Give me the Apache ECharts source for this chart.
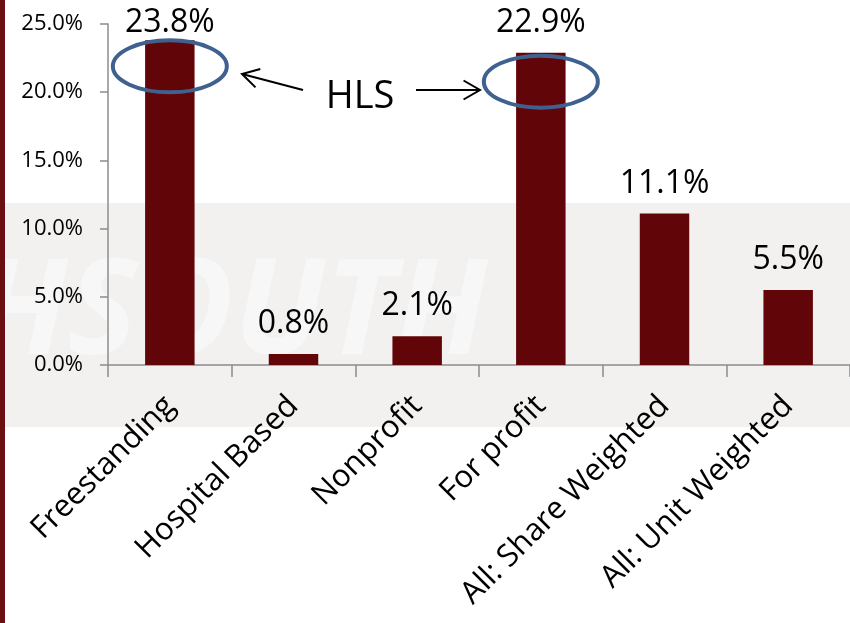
<!DOCTYPE html>
<html>
<head>
<meta charset="utf-8">
<script src="https://cdn.jsdelivr.net/npm/echarts@6/dist/echarts.min.js"></script>
<style>
html,body{margin:0;padding:0;background:#fff;}
#c{width:850px;height:623px;}
</style>
</head>
<body>
<div id="c"></div>
<script>
const categories = ['Freestanding', 'Hospital Based', 'Nonprofit', 'For profit', 'All: Share Weighted', 'All: Unit Weighted'];
const values = [23.8, 0.8, 2.1, 22.9, 11.1, 5.5];
const yTicks = [0, 5, 10, 15, 20, 25];
const hlsIndices = [0, 3];

const FONT = 'Open Sans';
const chart = echarts.init(document.getElementById('c'), null, {renderer: 'canvas'});

const seriesData = values.map((v, i) => i === 0 ? {value: v, label: {distance: 1}} : v);

const option = {
  animation: false,
  backgroundColor: '#ffffff',
  grid: {left: 108, right: 0, top: 24, bottom: 258, containLabel: false},
  xAxis: {
    type: 'category',
    data: categories,
    axisLine: {lineStyle: {color: '#8c8c8c', width: 1.5}},
    axisTick: {show: true, length: 12, lineStyle: {color: '#8c8c8c', width: 1.5}},
    axisLabel: {rotate: 45, fontSize: 31, fontFamily: FONT, color: '#000', margin: 36, interval: 0}
  },
  yAxis: {
    type: 'value',
    min: yTicks[0],
    max: yTicks[yTicks.length - 1],
    interval: yTicks[1] - yTicks[0],
    axisLine: {show: true, lineStyle: {color: '#8c8c8c', width: 1.5}},
    axisTick: {show: true, length: 8, lineStyle: {color: '#8c8c8c', width: 1.5}},
    splitLine: {show: false},
    axisLabel: {fontSize: 22, fontFamily: FONT, color: '#000', margin: 25,
      formatter: v => v.toFixed(1) + '%'}
  },
  series: [{
    type: 'bar',
    data: seriesData,
    barWidth: '40%',
    itemStyle: {color: '#620508'},
    label: {show: true, position: 'top', distance: 14, fontSize: 32, fontFamily: FONT, color: '#000',
      formatter: p => p.value.toFixed(1) + '%'}
  }]
};
chart.setOption(option);

function addGraphics() {
  const els = [];
  els.push({type: 'rect', z: -10, silent: true, shape: {x: 5, y: 203, width: 845, height: 224}, style: {fill: '#f2f1f0'}});
  els.push({type: 'text', z: -9, silent: true, x: -25, y: 250, style: {text: 'HSOUTH', font: 'italic bold 132px "Open Sans"', fill: '#f8f7f7'}});
  els.push({type: 'rect', z: 10, silent: true, shape: {x: 0, y: 0, width: 5, height: 623}, style: {fill: '#6b0f12'}});
  const offs = [26, 29];
  const centers = hlsIndices.map((idx, k) => {
    const p = chart.convertToPixel({seriesIndex: 0}, [idx, values[idx]]);
    return [p[0], p[1] + offs[k]];
  });
  centers.forEach(c => {
    els.push({type: 'ellipse', z: 20, silent: true, shape: {cx: c[0], cy: c[1], rx: 57, ry: 26},
      style: {fill: 'none', stroke: '#3f6190', lineWidth: 4}});
  });
  els.push({type: 'text', z: 20, silent: true, x: 360, y: 97,
    style: {text: 'HLS', font: '38px "Open Sans"', fill: '#000', align: 'center', verticalAlign: 'middle'}});
  function arrow(x1, y1, x2, y2) {
    els.push({type: 'line', z: 20, silent: true, shape: {x1, y1, x2, y2}, style: {stroke: '#000', lineWidth: 2}});
    const ang = Math.atan2(y2 - y1, x2 - x1);
    const L = 19, a = Math.PI / 6;
    els.push({type: 'polyline', z: 20, silent: true, shape: {points: [
      [x2 - L * Math.cos(ang - a), y2 - L * Math.sin(ang - a)], [x2, y2],
      [x2 - L * Math.cos(ang + a), y2 - L * Math.sin(ang + a)]]},
      style: {stroke: '#000', lineWidth: 2, fill: 'none'}});
  }
  arrow(303, 90, 242, 74);
  arrow(416, 90, 480, 90);
  chart.setOption({graphic: {elements: els}});
}
addGraphics();
</script>
</body>
</html>
